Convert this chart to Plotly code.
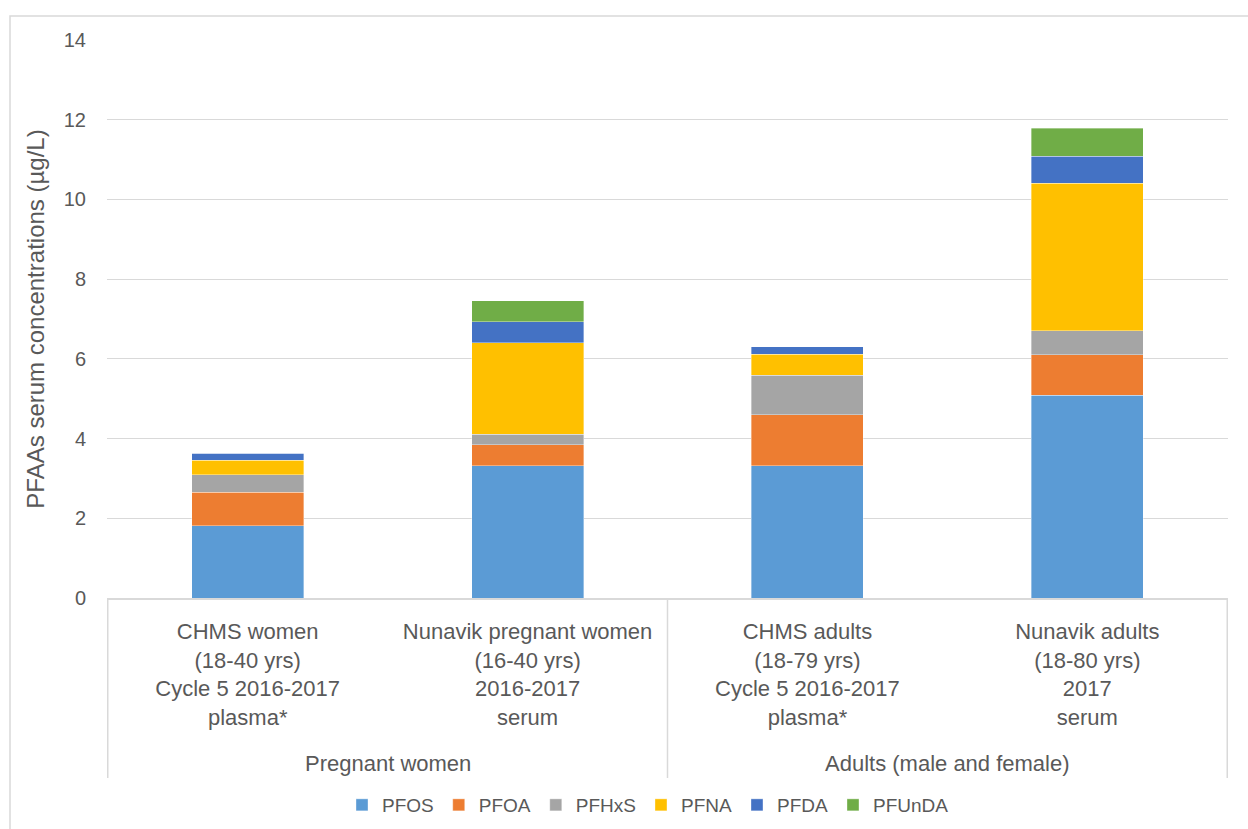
import plotly.graph_objects as go

categories = [
    "CHMS women<br>(18-40 yrs)<br>Cycle 5 2016-2017<br>plasma*",
    "Nunavik pregnant women<br>(16-40 yrs)<br>2016-2017<br>serum",
    "CHMS adults<br>(18-79 yrs)<br>Cycle 5 2016-2017<br>plasma*",
    "Nunavik adults<br>(18-80 yrs)<br>2017<br>serum",
]
groups = ["Pregnant women", "Adults (male and female)"]

pfos = [1.81, 3.32, 3.32, 5.09]
pfoa = [0.84, 0.53, 1.28, 1.01]
pfhxs = [0.44, 0.26, 0.99, 0.60]
pfna = [0.37, 2.30, 0.52, 3.70]
pfda = [0.17, 0.52, 0.20, 0.68]
pfunda = [0.0, 0.53, 0.0, 0.71]

series = [
    ("PFOS", pfos, "#5B9BD5"),
    ("PFOA", pfoa, "#ED7D31"),
    ("PFHxS", pfhxs, "#A5A5A5"),
    ("PFNA", pfna, "#FFC000"),
    ("PFDA", pfda, "#4472C4"),
    ("PFUnDA", pfunda, "#70AD47"),
]

FONT = "Liberation Sans, Arial, sans-serif"
TXT = "#595959"
GRID = "#D9D9D9"

fig = go.Figure()
for name, vals, col in series:
    fig.add_trace(go.Bar(
        x=categories, y=vals, name=name,
        marker=dict(color=col, line=dict(color="rgba(255,255,255,0.6)", width=0.6)),
    ))

W, H = 1248, 829
L, R, T, B = 107, 20, 40, 231
pw, ph = W - L - R, H - T - B

def px(xp):
    return (xp - L) / pw

def py(yp):
    return (H - B - yp) / ph

fig.update_layout(
    width=W, height=H,
    margin=dict(l=L, r=R, t=T, b=B, autoexpand=False),
    barmode="stack", bargap=0.6,
    plot_bgcolor="white", paper_bgcolor="white",
    font=dict(family=FONT, color=TXT, size=20),
    legend=dict(orientation="h", x=px(648), xanchor="center", y=py(786), yanchor="top",
                font=dict(size=19, color=TXT), traceorder="normal", itemwidth=30),
    xaxis=dict(type="category", showgrid=False, showline=True, linecolor=GRID, linewidth=1.5,
               ticks="", tickfont=dict(size=22, color=TXT), ticklabelstandoff=13,
               automargin=False),
    yaxis=dict(range=[0, 14], dtick=2, showgrid=True, gridcolor=GRID, gridwidth=1,
               zeroline=False, showline=False, ticks="", tickfont=dict(size=20, color=TXT),
               ticklabelstandoff=20, automargin=False,
               title=dict(text="PFAAs serum concentrations (µg/L)", font=dict(size=24, color=TXT),
                          standoff=12)),
)

# group labels
for gi, g in enumerate(groups):
    fig.add_annotation(x=gi * 2 + 0.5, xref="x", y=py(763), yref="paper", text=g,
                       showarrow=False, font=dict(size=22, color=TXT), yanchor="middle")

# category dividers
for xv in [-0.5, 1.5, 3.5]:
    fig.add_shape(type="line", xref="x", yref="paper", x0=xv, x1=xv, y0=0, y1=py(778),
                  line=dict(color=GRID, width=1.5))

# chart border
fig.add_shape(type="rect", xref="paper", yref="paper", x0=px(10), x1=px(1262), y0=py(900), y1=py(16),
              line=dict(color=GRID, width=1.5), layer="below")

fig.write_html("out.html")
